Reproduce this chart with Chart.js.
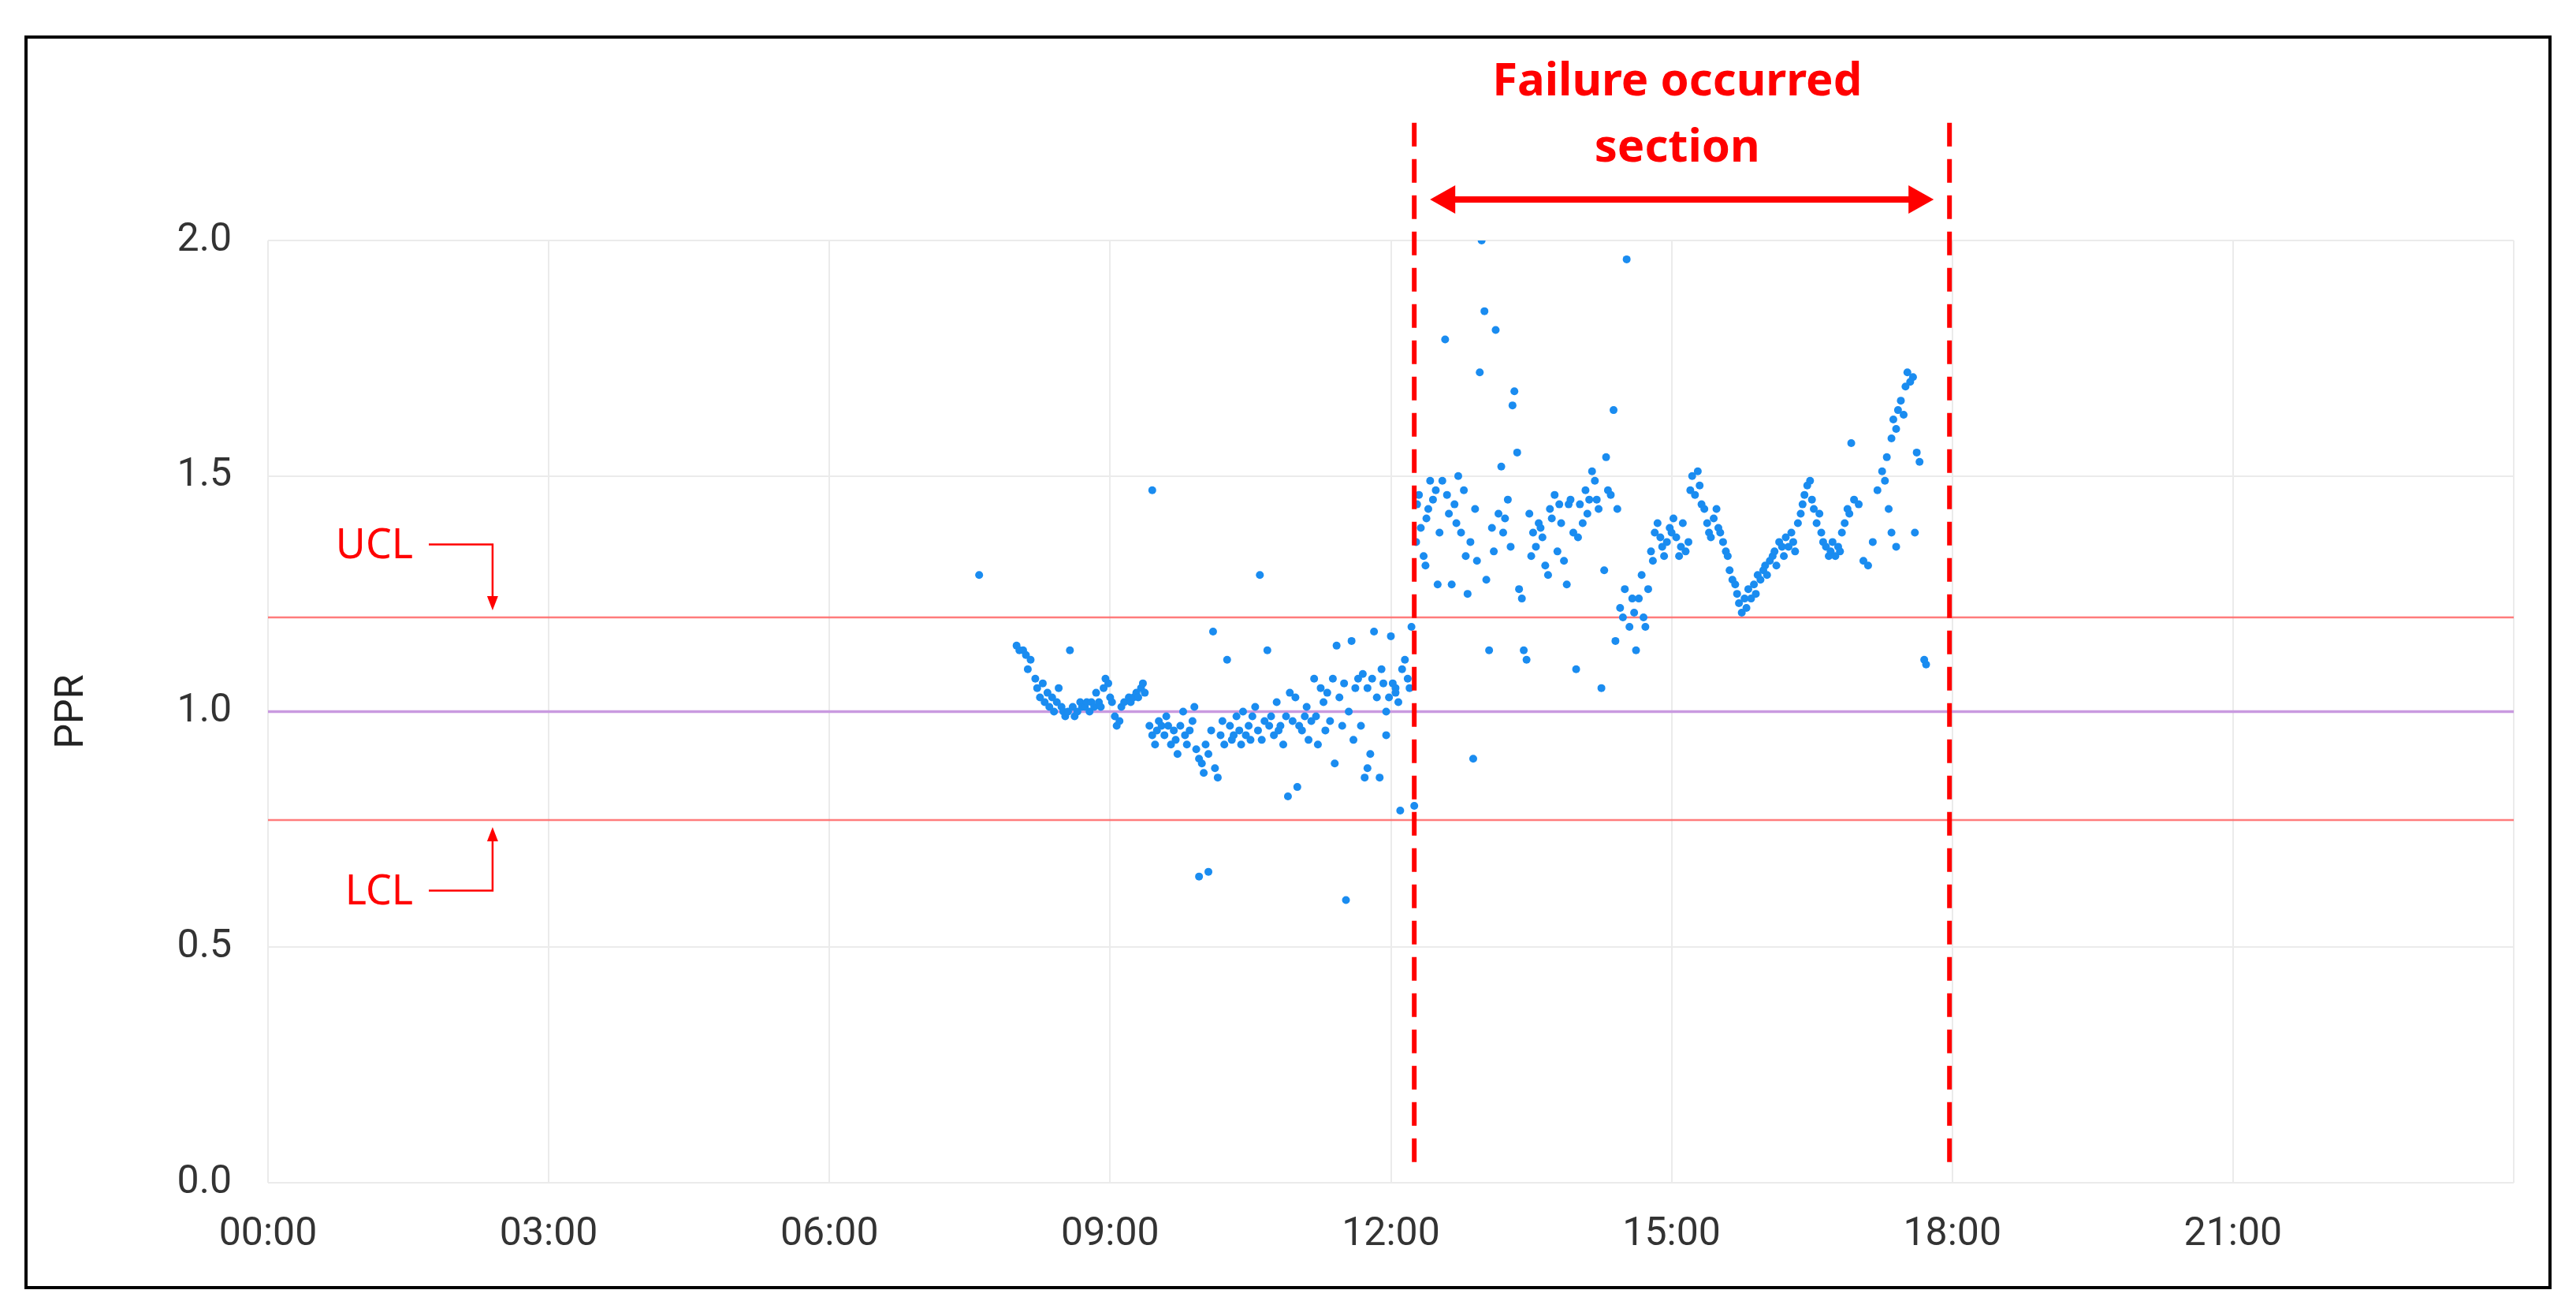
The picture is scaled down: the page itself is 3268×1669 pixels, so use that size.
<!DOCTYPE html>
<html>
<head>
<meta charset="utf-8">
<script src="https://cdn.jsdelivr.net/npm/chart.js@4"></script>
<style>
  html, body { margin: 0; padding: 0; background: #fff; }
  #frame { position: absolute; left: 31px; top: 45px; width: 3198px; height: 1582px; border: 4px solid #000; }
  #wrap { position: absolute; left: 0; top: 0; width: 3268px; height: 1669px; }
</style>
</head>
<body>
<div id="frame"></div>
<div id="wrap"><canvas id="ppr"></canvas></div>
<script>
// time of day in hours, PPR value
let pprTimes = [7.6,
  8.00,8.03,8.07,8.10,8.12,8.15,8.20,8.22,8.25,8.28,8.30,8.33,8.35,8.38,8.40,8.43,8.45,8.48,8.50,8.52,8.55,8.57,8.60,8.62,8.65,8.68,8.70,8.73,8.75,8.78,8.80,8.83,8.85,8.88,8.90,8.93,8.95,8.98,9.00,9.02,9.05,9.07,9.10,9.12,9.15,9.20,9.22,9.25,9.28,9.30,9.33,9.35,9.37,
  9.45,9.42,9.45,9.48,9.50,9.52,9.55,9.58,9.60,9.62,9.65,9.68,9.70,9.72,9.75,9.78,9.80,9.82,9.85,9.88,9.90,9.92,9.95,9.98,10.00,10.02,10.05,10.08,10.10,10.12,10.15,10.18,10.20,10.22,10.25,10.28,10.30,10.32,10.35,10.38,10.40,10.42,10.45,10.48,10.50,10.52,10.55,10.58,10.60,10.62,10.65,10.68,10.70,9.95,10.05,
  10.72,10.75,10.78,10.80,10.82,10.85,10.88,10.90,10.92,10.95,10.98,11.00,11.02,11.05,11.08,11.10,11.12,11.15,11.18,11.20,11.22,11.25,11.28,11.30,11.32,11.35,11.38,11.40,11.42,11.45,11.48,11.50,11.52,11.55,11.58,11.60,11.62,11.65,11.68,11.70,11.72,11.75,11.78,11.80,11.82,11.85,11.88,11.90,11.92,11.95,11.98,12.00,12.02,12.05,12.08,12.10,12.12,12.15,12.18,12.20,12.22,12.25,11.95,11.75,12.05,
  12.27,12.28,12.30,12.32,12.35,12.37,12.38,12.40,12.42,12.45,12.48,12.50,12.52,12.55,12.58,12.60,12.62,12.65,12.68,12.70,12.72,12.75,12.78,12.80,12.82,12.85,12.88,12.90,12.92,12.95,12.97,13.00,13.02,13.05,13.08,13.10,13.12,13.15,13.18,13.20,13.22,13.25,13.28,13.30,13.32,13.35,13.37,13.40,13.42,13.45,13.48,13.50,13.52,13.55,13.58,13.60,13.62,13.65,13.68,13.70,13.72,13.75,13.78,13.80,13.82,13.85,13.88,13.90,13.92,13.95,13.98,14.00,14.02,14.05,14.08,14.10,14.12,14.15,14.18,14.20,14.22,14.25,14.28,14.30,14.32,14.35,14.38,14.40,14.42,14.45,14.48,14.50,14.52,14.55,14.58,14.60,14.62,14.65,14.68,14.70,14.72,14.75,14.78,14.80,14.82,14.85,14.88,14.90,14.92,14.95,14.98,
  15.00,15.02,15.05,15.08,15.10,15.12,15.15,15.18,15.20,15.22,15.25,15.28,15.30,15.32,15.35,15.38,15.40,15.42,15.45,15.48,15.50,15.52,15.55,15.58,15.60,15.62,15.65,15.68,15.70,15.72,15.75,15.78,15.80,15.82,15.85,15.88,15.90,15.92,15.95,15.98,16.00,16.02,16.05,16.08,16.10,16.12,16.15,16.18,16.20,16.22,16.25,16.28,16.30,16.32,16.35,16.38,16.40,16.42,16.45,16.48,16.50,16.52,16.55,16.58,16.60,16.62,16.65,16.68,16.70,16.72,16.75,16.78,16.80,16.82,16.85,16.88,16.90,16.92,16.95,17.00,17.05,17.10,17.15,17.20,17.25,17.28,17.30,17.32,17.35,17.37,17.40,17.42,17.45,17.48,17.50,17.52,17.55,17.58,17.60,17.62,17.65,17.70,17.72,17.35,17.40];
let pprValues = [1.29,
  1.14,1.13,1.13,1.12,1.09,1.11,1.07,1.05,1.03,1.06,1.02,1.04,1.01,1.03,1.00,1.02,1.05,1.01,1.00,0.99,1.00,1.13,1.01,0.99,1.00,1.02,1.01,1.01,1.02,1.00,1.02,1.01,1.04,1.02,1.01,1.05,1.07,1.06,1.03,1.02,0.99,0.97,0.98,1.01,1.02,1.03,1.02,1.03,1.04,1.03,1.05,1.06,1.04,
  1.47,0.97,0.95,0.93,0.96,0.98,0.97,0.95,0.99,0.97,0.93,0.96,0.94,0.91,0.97,1.00,0.95,0.93,0.96,0.98,1.01,0.92,0.90,0.89,0.87,0.93,0.91,0.96,1.17,0.88,0.86,0.95,0.98,0.93,1.11,0.97,0.94,0.95,0.99,0.96,0.93,1.00,0.95,0.97,0.94,0.99,1.01,0.96,1.29,0.94,0.98,1.13,0.97,0.65,0.66,
  0.99,0.95,1.02,0.96,0.97,0.93,0.99,0.82,1.04,0.98,1.03,0.84,0.97,0.96,0.99,1.01,0.94,0.98,1.07,0.99,0.93,1.05,1.02,0.96,1.04,0.98,1.07,0.89,1.14,1.03,0.97,1.06,0.60,1.00,1.15,0.94,1.05,1.07,0.97,1.08,0.86,1.05,0.91,1.07,1.17,1.03,0.86,1.09,1.06,0.95,1.03,1.16,1.06,1.05,1.02,0.79,1.09,1.11,1.07,1.05,1.18,0.80,1.00,0.88,1.04,
  1.36,1.44,1.46,1.39,1.33,1.31,1.41,1.43,1.49,1.45,1.47,1.27,1.38,1.49,1.79,1.46,1.42,1.27,1.44,1.40,1.50,1.38,1.47,1.33,1.25,1.36,0.90,1.43,1.32,1.72,2.00,1.85,1.28,1.13,1.39,1.34,1.81,1.42,1.52,1.38,1.41,1.45,1.35,1.65,1.68,1.55,1.26,1.24,1.13,1.11,1.42,1.33,1.38,1.35,1.40,1.39,1.37,1.31,1.29,1.43,1.41,1.46,1.34,1.44,1.40,1.32,1.27,1.44,1.45,1.38,1.09,1.37,1.44,1.40,1.47,1.42,1.45,1.51,1.49,1.45,1.43,1.05,1.30,1.54,1.47,1.46,1.64,1.15,1.43,1.22,1.20,1.26,1.96,1.18,1.24,1.21,1.13,1.24,1.29,1.20,1.18,1.26,1.34,1.32,1.38,1.40,1.37,1.35,1.33,1.36,1.39,
  1.38,1.41,1.37,1.33,1.35,1.40,1.34,1.36,1.47,1.50,1.46,1.51,1.48,1.44,1.43,1.40,1.38,1.37,1.41,1.43,1.39,1.38,1.36,1.34,1.33,1.30,1.28,1.27,1.25,1.23,1.21,1.24,1.22,1.26,1.24,1.27,1.25,1.29,1.28,1.30,1.31,1.29,1.32,1.33,1.34,1.31,1.36,1.35,1.33,1.37,1.35,1.38,1.36,1.34,1.40,1.42,1.44,1.46,1.48,1.49,1.45,1.43,1.40,1.42,1.38,1.36,1.35,1.33,1.34,1.36,1.33,1.35,1.34,1.38,1.40,1.43,1.42,1.57,1.45,1.44,1.32,1.31,1.36,1.47,1.51,1.49,1.54,1.43,1.58,1.62,1.60,1.64,1.66,1.63,1.69,1.72,1.70,1.71,1.38,1.55,1.53,1.11,1.10,1.38,1.35];

let xTicks = [0, 3, 6, 9, 12, 15, 18, 21];
let yTicks = [0, 0.5, 1.0, 1.5, 2.0];
let ucl = 1.2, centerLine = 1.0, lcl = 0.77;
let failureStart = 12.25, failureEnd = 17.97;

let points = pprTimes.map((t, i) => ({ x: t, y: pprValues[i] }));

function hhmm(h) {
  let hh = Math.floor(h);
  return String(hh).padStart(2, '0') + ':00';
}

let annotations = {
  id: 'annotations',
  beforeDatasetsDraw(chart) {
    let c = chart.ctx, ys = chart.scales.y;
    let L = chart.chartArea.left, R = chart.chartArea.right;
    c.save();
    [[ucl, 'rgba(255,110,110,0.9)', 2.5], [lcl, 'rgba(255,110,110,0.9)', 2.5], [centerLine, '#c99ae0', 3.5]].forEach(l => {
      let y = ys.getPixelForValue(l[0]);
      c.strokeStyle = l[1]; c.lineWidth = l[2];
      c.beginPath(); c.moveTo(L, y); c.lineTo(R, y); c.stroke();
    });
    c.restore();
  },
  afterDraw(chart) {
    let c = chart.ctx, xs = chart.scales.x, ys = chart.scales.y;
    let red = '#ff0000';
    c.save();
    // failure section dashed lines
    c.strokeStyle = red; c.lineWidth = 6; c.setLineDash([30, 16]);
    [failureStart, failureEnd].forEach(t => {
      let x = xs.getPixelForValue(t);
      c.beginPath(); c.moveTo(x, ys.getPixelForValue(2.25)); c.lineTo(x, ys.getPixelForValue(0.02)); c.stroke();
    });
    c.setLineDash([]);
    // double arrow
    let ay = ys.getPixelForValue(2.087);
    let ax1 = xs.getPixelForValue(failureStart) + 20, ax2 = xs.getPixelForValue(failureEnd) - 20;
    c.lineWidth = 8;
    c.beginPath(); c.moveTo(ax1 + 25, ay); c.lineTo(ax2 - 25, ay); c.stroke();
    c.fillStyle = red;
    c.beginPath(); c.moveTo(ax1, ay); c.lineTo(ax1 + 32, ay - 18); c.lineTo(ax1 + 32, ay + 18); c.fill();
    c.beginPath(); c.moveTo(ax2, ay); c.lineTo(ax2 - 32, ay - 18); c.lineTo(ax2 - 32, ay + 18); c.fill();
    // title
    c.font = 'bold 58px "Noto Sans"';
    c.textAlign = 'center'; c.textBaseline = 'middle';
    let tx = xs.getPixelForValue(15.06);
    c.fillText('Failure occurred', tx, ys.getPixelForValue(2.335));
    c.fillText('section', tx, ys.getPixelForValue(2.195));
    // UCL / LCL labels
    c.font = '52px "Noto Sans"';
    c.textAlign = 'right';
    let lx = xs.getPixelForValue(1.55), bx = xs.getPixelForValue(2.4);
    let uy = ys.getPixelForValue(1.35), ly = ys.getPixelForValue(0.615);
    c.fillText('UCL', lx, uy);
    c.fillText('LCL', lx, ly);
    c.lineWidth = 2.5;
    c.beginPath(); c.moveTo(lx + 20, uy - 3); c.lineTo(bx, uy - 3); c.lineTo(bx, ys.getPixelForValue(1.215) - 16); c.stroke();
    c.beginPath(); c.moveTo(bx, ys.getPixelForValue(1.215)); c.lineTo(bx - 7, ys.getPixelForValue(1.215) - 18); c.lineTo(bx + 7, ys.getPixelForValue(1.215) - 18); c.fill();
    c.beginPath(); c.moveTo(lx + 20, ly - 3); c.lineTo(bx, ly - 3); c.lineTo(bx, ys.getPixelForValue(0.755) + 16); c.stroke();
    c.beginPath(); c.moveTo(bx, ys.getPixelForValue(0.755)); c.lineTo(bx - 7, ys.getPixelForValue(0.755) + 18); c.lineTo(bx + 7, ys.getPixelForValue(0.755) + 18); c.fill();
    c.restore();
  }
};

new Chart(document.getElementById('ppr').getContext('2d'), {
  type: 'scatter',
  data: {
    datasets: [{
      label: 'PPR',
      data: points,
      backgroundColor: '#1a8cf0',
      borderWidth: 0,
      pointRadius: 5
    }]
  },
  options: {
    responsive: true,
    maintainAspectRatio: false,
    animation: false,
    devicePixelRatio: 1,
    layout: { padding: { left: 62, top: 305, right: 79, bottom: 0 } },
    plugins: { legend: { display: false }, tooltip: { enabled: false } },
    scales: {
      x: {
        type: 'linear', min: 0, max: 24,
        afterFit(s) { s.height = 169; },
        afterBuildTicks(s) { s.ticks = xTicks.concat([24]).map(v => ({ value: v })); },
        border: { display: false },
        grid: { color: '#ebebeb', lineWidth: 2, drawTicks: false },
        ticks: {
          padding: 36, color: '#333',
          font: { family: 'Roboto', size: 50 },
          callback: v => v >= 24 ? '' : hhmm(v)
        }
      },
      y: {
        min: 0, max: 2,
        afterFit(s) { s.width = 278; },
        afterBuildTicks(s) { s.ticks = yTicks.map(v => ({ value: v })); },
        border: { display: false },
        grid: { color: '#ebebeb', lineWidth: 2, drawTicks: false },
        ticks: {
          padding: 46, color: '#333',
          font: { family: 'Roboto', size: 50 },
          callback: v => v.toFixed(1)
        },
        title: { display: true, text: 'PPR', color: '#222', font: { family: 'Roboto', size: 50 }, padding: { top: 0, bottom: 0 } }
      }
    }
  },
  plugins: [annotations]
});
</script>
</body>
</html>
